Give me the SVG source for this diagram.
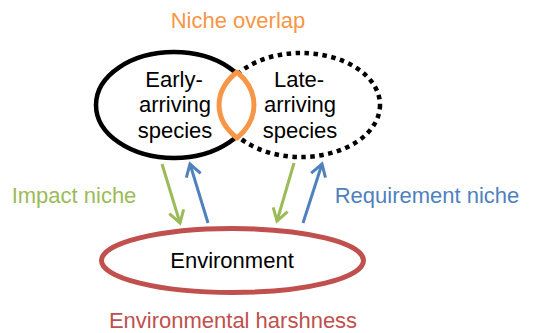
<svg xmlns="http://www.w3.org/2000/svg" width="534" height="333" viewBox="0 0 534 333">
<defs>
<style>
text{font-family:"Liberation Sans",Arial,sans-serif;font-size:22px;text-anchor:middle}
.blk{fill:#000}
.conn{fill:none;stroke-width:3}
.g{stroke:#9BBB59}
.b{stroke:#4F81BD}
</style>
<marker id="ag" markerUnits="userSpaceOnUse" markerWidth="20" markerHeight="20" viewBox="0 0 20 20" refX="17" refY="10" orient="auto">
<path d="M5,2.5 L17,10 L5,17.5" fill="none" stroke="#9BBB59" stroke-width="3"/>
</marker>
<marker id="ab" markerUnits="userSpaceOnUse" markerWidth="20" markerHeight="20" viewBox="0 0 20 20" refX="17" refY="10" orient="auto">
<path d="M5,2.5 L17,10 L5,17.5" fill="none" stroke="#4F81BD" stroke-width="3"/>
</marker>
</defs>
<rect width="534" height="333" fill="#fff"/>
<g id="late">
<ellipse cx="301" cy="105" rx="79" ry="52" fill="none" stroke="#000" stroke-width="4.5" stroke-dasharray="4.5 4.5"/>
<text class="blk" x="299" y="87">Late-</text>
<text class="blk" x="300" y="112">arriving</text>
<text class="blk" x="300" y="138">species</text>
</g>
<g id="early">
<ellipse cx="174" cy="105" rx="78" ry="53" fill="#fff" stroke="#000" stroke-width="4.5"/>
<text class="blk" x="174" y="87">Early-</text>
<text class="blk" x="175" y="112">arriving</text>
<text class="blk" x="175" y="138">species</text>
</g>
<g id="overlap">
<path d="M237,72 A78,53 0 0 1 237,138 A79,52 0 0 1 237,72 Z" fill="#fff" stroke="#F79646" stroke-width="5" stroke-linejoin="round"/>
<text x="238" y="28" fill="#F79646">Niche overlap</text>
</g>
<g id="environment">
<ellipse cx="232.5" cy="260.5" rx="131" ry="32" fill="none" stroke="#C0504D" stroke-width="5"/>
<text class="blk" x="232" y="268">Environment</text>
</g>
<g id="labels">
<text x="74" y="203" fill="#9BBB59">Impact niche</text>
<text x="427" y="203" fill="#4F81BD">Requirement niche</text>
<text x="233" y="328" fill="#C0504D">Environmental harshness</text>
</g>
<g id="connectors">
<line class="conn g" x1="162" y1="164" x2="180" y2="223" marker-end="url(#ag)"/>
<line class="conn b" x1="208" y1="223" x2="190" y2="164" marker-end="url(#ab)"/>
<line class="conn g" x1="294" y1="163" x2="277" y2="221" marker-end="url(#ag)"/>
<line class="conn b" x1="303" y1="223" x2="322" y2="164" marker-end="url(#ab)"/>
</g>
</svg>
